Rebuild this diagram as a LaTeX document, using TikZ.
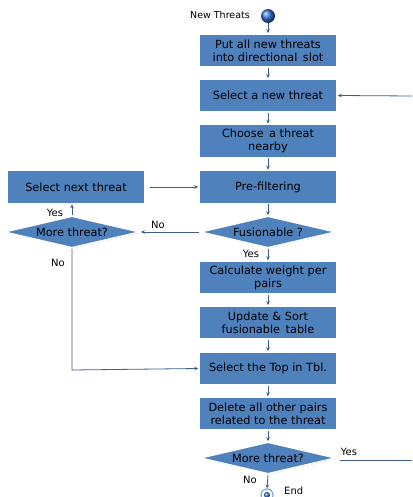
\documentclass[tikz,border=0pt]{standalone}
\usepackage{fontspec}
\setmainfont{DejaVu Sans}
\usetikzlibrary{shapes.geometric,arrows.meta,shadows}
\definecolor{boxblue}{HTML}{4F81BD}
\definecolor{linec}{HTML}{3F5F8A}
\definecolor{ballblue}{HTML}{2F72D6}
\begin{document}
\begin{tikzpicture}[x=1pt,y=-1pt,
  proc/.style={draw=white, line width=1.5pt, fill=boxblue, minimum width=138pt, minimum height=33pt,
    align=center, font=\fontsize{11.3}{13}\selectfont, inner sep=1pt,
    drop shadow={shadow xshift=0.8pt, shadow yshift=-0.8pt, opacity=0.35}},
  dec/.style={diamond, aspect=4.3, draw=white, line width=1.5pt, fill=boxblue, minimum width=136pt,
    minimum height=32pt, inner sep=0pt, font=\fontsize{11.3}{13}\selectfont,
    drop shadow={shadow xshift=0.8pt, shadow yshift=-0.8pt, opacity=0.35}},
  conn/.style={draw=linec, line width=0.8pt, -{Stealth[length=4pt,width=3.5pt]}},
  plain/.style={draw=linec, line width=0.8pt},
  lbl/.style={font=\fontsize{10}{11}\selectfont, inner sep=0pt}
]
\useasboundingbox (0,0) rectangle (412,497);

\node[circle, ball color=ballblue, minimum size=14pt, inner sep=0pt] (start) at (268,16) {};
\node[lbl, font=\fontsize{9.5}{10}\selectfont] (newt) at (220,15) {New Threats};

\node[proc] (b1) at (268,50.5) {Put all new threats\\into directional\, slot};
\node[proc] (b2) at (268,95.5) {Select a new threat};
\node[proc] (b3) at (268,141) {Choose\, a threat\\nearby};
\node[proc] (b4) at (268,187) {Pre-filtering};
\node[proc] (snt) at (76,187) {Select next threat};
\node[dec] (fus) at (268,232) {Fusionable ?};
\node[dec] (more1) at (72,232) {More threat?};
\node[proc] (b6) at (268,277.5) {Calculate weight per\\pairs};
\node[proc] (b7) at (268,322.5) {Update \& Sort\\fusionable\, table};
\node[proc] (b8) at (268,368.5) {Select the Top in Tbl.};
\node[proc] (b9) at (268,413.5) {Delete all other pairs\\related to the threat};
\node[dec] (more2) at (268,458) {More threat?};

\node[circle, draw=boxblue!70!white, line width=1.2pt, fill=white, minimum size=12pt, inner sep=0pt] (endc) at (267,495) {};
\node[circle, ball color=ballblue, minimum size=6pt, inner sep=0pt] (endd) at (267,495) {};
\node[lbl, anchor=west] (endl) at (284,490.5) {End};

\coordinate (r1) at (412,96);
\coordinate (r2) at (412,460);
\coordinate (corner) at (72,370);

\draw[conn] (start) -- (b1);
\draw[conn] (b1) -- (b2);
\draw[conn] (r1) -- (b2.east);
\draw[conn] (b2) -- (b3);
\draw[conn] (b3) -- (b4);
\draw[conn, shorten <=4pt] (snt.east) -- (b4.west);
\draw[conn] (b4) -- (fus);
\draw[conn] (fus.west) -- (more1.east);
\node[lbl] (lno1) at (158,225) {No};
\draw[conn] (more1.north) -- (more1.north |- snt.south);
\node[lbl] (lyes1) at (55,213) {Yes};
\draw[conn] (more1.south) -- (corner) -- (b8.west);
\node[lbl] (lno2) at (58,263) {No};
\draw[conn] (fus.south) -- (b6);
\node[lbl] (lyes2) at (251,254) {Yes};
\draw[conn] (b6) -- (b7);
\draw[conn] (b7) -- (b8);
\draw[conn] (b8) -- (b9);
\draw[conn] (b9) -- (more2);
\draw[plain] (more2.east) ++(3,2) -- (r2);
\node[lbl] (lyes3) at (349,452) {Yes};
\draw[conn] (more2.south) -- (endc.north);
\node[lbl] (lno3) at (250,480) {No};
\end{tikzpicture}
\end{document}
